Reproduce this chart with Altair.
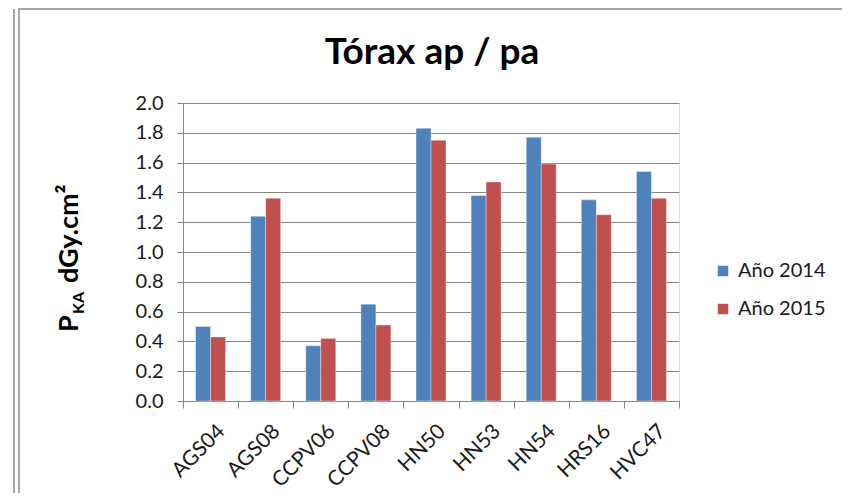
import altair as alt
import pandas as pd

categories = ["AGS04", "AGS08", "CCPV06", "CCPV08", "HN50", "HN53", "HN54", "HRS16", "HVC47"]
series_names = ["Año 2014", "Año 2015"]
values_2014 = [0.50, 1.24, 0.37, 0.65, 1.83, 1.38, 1.77, 1.35, 1.54]
values_2015 = [0.43, 1.36, 0.42, 0.51, 1.75, 1.47, 1.59, 1.25, 1.36]
y_ticks = [0.0, 0.2, 0.4, 0.6, 0.8, 1.0, 1.2, 1.4, 1.6, 1.8, 2.0]
colors = ["#4F81BD", "#C0504D"]
chart_title = "Tórax ap / pa"

rows = []
for c, v in zip(categories, values_2014):
    rows.append({"Equipo": c, "Serie": series_names[0], "Valor": v})
for c, v in zip(categories, values_2015):
    rows.append({"Equipo": c, "Serie": series_names[1], "Valor": v})
df = pd.DataFrame(rows)

FONT = "Lato"
W, H = 496, 298

bars = alt.Chart(df).mark_bar(stroke="white", strokeWidth=0.6, strokeOpacity=0.6).encode(
    x=alt.X("Equipo:N", sort=categories,
            scale=alt.Scale(paddingInner=0, paddingOuter=0),
            axis=alt.Axis(title=None, labelAngle=-45, labelAlign="right", labelBaseline="top",
                          labelFont=FONT, labelFontSize=21, labelColor="#1a1a1a",
                          labelPadding=12, labelOffset=3, tickBand="extent", tickSize=7,
                          tickColor="#868686", domainColor="#868686", grid=False)),
    xOffset=alt.XOffset("Serie:N", sort=series_names,
                        scale=alt.Scale(paddingInner=0, paddingOuter=0.84)),
    y=alt.Y("Valor:Q", scale=alt.Scale(domain=[0, 2.0], nice=False),
            axis=alt.Axis(title=None, values=y_ticks, format=".1f",
                          labelFont=FONT, labelFontSize=20, labelColor="#1a1a1a",
                          labelPadding=14, tickSize=6, tickColor="#868686",
                          domainColor="#868686", gridColor="#868686", grid=True)),
    color=alt.Color("Serie:N", sort=series_names,
                    scale=alt.Scale(domain=series_names, range=colors),
                    legend=alt.Legend(title=None, orient="none", legendX=530, legendY=158,
                                      symbolType="square", symbolSize=110, symbolStrokeWidth=0,
                                      labelFont=FONT, labelFontSize=20, labelColor="#1a1a1a",
                                      rowPadding=18, labelOffset=5)),
)

# chart title as a text mark above the plot
title_mark = alt.Chart().mark_text(text=chart_title, font=FONT, fontSize=37, fontWeight="bold",
                                   align="center", baseline="alphabetic", color="black").encode(
    x=alt.value(249), y=alt.value(-39))

# y-axis title made of pieces: P with subscript KA, then dGy.cm²
ytitle_p = alt.Chart().mark_text(text="P", font=FONT, fontSize=27, fontWeight="bold", angle=270,
                                 align="left", baseline="alphabetic", color="black").encode(
    x=alt.value(-105), y=alt.value(229))
ytitle_ka = alt.Chart().mark_text(text="KA", font=FONT, fontSize=16, fontWeight="bold", angle=270,
                                  align="left", baseline="alphabetic", color="black").encode(
    x=alt.value(-99), y=alt.value(211))
ytitle_rest = alt.Chart().mark_text(text="dGy.cm²", font=FONT, fontSize=27, fontWeight="bold", angle=270,
                                    align="left", baseline="alphabetic", color="black").encode(
    x=alt.value(-105), y=alt.value(180))

# chart frame (decoration)
frame = alt.Chart().mark_rect(fill=None, stroke="#a6a6a6", strokeWidth=2).encode(
    x=alt.value(-164), x2=alt.value(662), y=alt.value(-94), y2=alt.value(420))
left_frame = alt.Chart().mark_rule(stroke="#a6a6a6", strokeWidth=2).encode(
    x=alt.value(-169), y=alt.value(-94), y2=alt.value(420))

chart = alt.layer(frame, left_frame, bars, title_mark, ytitle_p, ytitle_ka, ytitle_rest).properties(
    width=W, height=H,
    autosize=alt.AutoSizeParams(type="none"),
    padding={"left": 175, "top": 95, "right": 163, "bottom": 92},
).configure_view(stroke=None).configure(background="white")

chart.save("out.html", embed_options={"renderer": "svg", "actions": False})
